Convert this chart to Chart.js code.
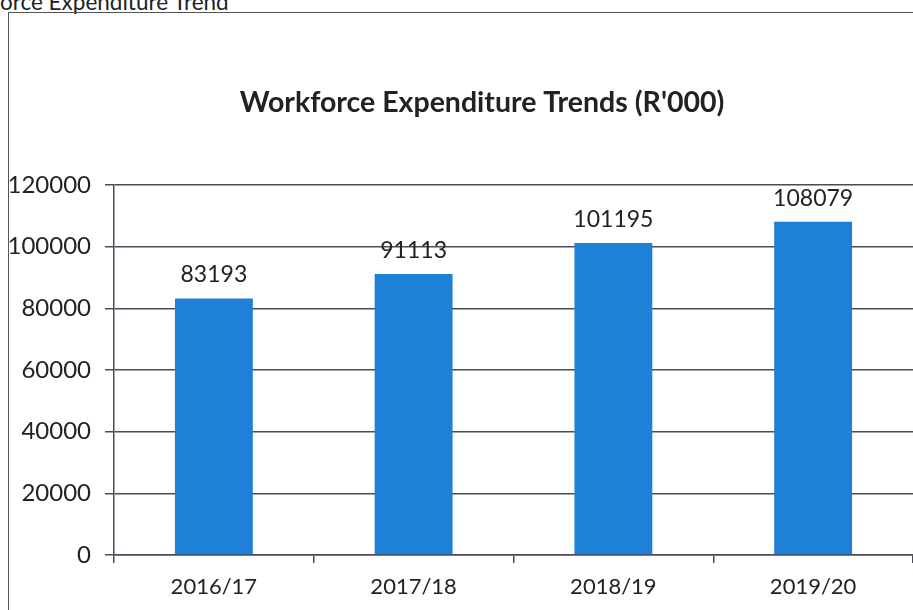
<!DOCTYPE html>
<html lang="en">
<head>
<meta charset="UTF-8">
<title>Workforce Expenditure Trends</title>
<script src="https://cdn.jsdelivr.net/npm/chart.js"></script>
<style>
  html, body { margin: 0; padding: 0; background: #fff; overflow: hidden; }
  body { width: 913px; height: 610px; position: relative; font-family: Lato, "Open Sans", sans-serif; }
  .caption { position: absolute; left: -62px; top: -12px; font-size: 22.5px; color: #222; white-space: nowrap; }
  .frame { position: absolute; left: 8px; top: 12px; width: 1000px; height: 700px; border: 1.5px solid #555; }
  #wrap { position: absolute; left: 0; top: 0; width: 913px; height: 610px; }
</style>
</head>
<body>
  <div class="caption">Workforce Expenditure Trend</div>
  <div class="frame"></div>
  <div id="wrap"><canvas id="chart"></canvas></div>
<script>
// chart data
const categories = ['2016/17', '2017/18', '2018/19', '2019/20'];
const expenditure = [83193, 91113, 101195, 108079];
const yTicks = [0, 20000, 40000, 60000, 80000, 100000, 120000];
const chartTitle = "Workforce Expenditure Trends (R'000)";

const gridColor = '#4b4b5c';
const textColor = '#222';
const fontFamily = 'Lato, "Open Sans", sans-serif';

// draws the value above each bar, plus the title (sits a bit right of centre in the original)
const valueLabels = {
  id: 'valueLabels',
  afterDatasetsDraw(chart) {
    const ctx = chart.ctx;
    const meta = chart.getDatasetMeta(0);
    ctx.save();
    ctx.font = '23px ' + fontFamily;
    ctx.fillStyle = textColor;
    ctx.textAlign = 'center';
    ctx.textBaseline = 'bottom';
    meta.data.forEach((bar, i) => {
      ctx.fillText(String(expenditure[i]), bar.x, bar.y - 12);
    });
    ctx.font = 'bold 28.5px ' + fontFamily;
    ctx.textBaseline = 'middle';
    ctx.fillText(chartTitle, 482, 103);
    ctx.restore();
  }
};

new Chart(document.getElementById('chart'), {
  type: 'bar',
  data: {
    labels: categories,
    datasets: [{
      data: expenditure,
      backgroundColor: '#1f80d8',
      borderWidth: 0,
      categoryPercentage: 1,
      barPercentage: 0.39
    }]
  },
  options: {
    responsive: true,
    maintainAspectRatio: false,
    animation: false,
    layout: { padding: { left: 0, right: 0, top: 185, bottom: 0 } },
    plugins: {
      legend: { display: false },
      tooltip: { enabled: false },
      title: { display: false }
    },
    scales: {
      x: {
        offset: true,
        grid: { display: true, drawOnChartArea: false, drawTicks: true, tickLength: 8, offset: true, color: gridColor, lineWidth: 1.5 },
        border: { color: gridColor, width: 1.5 },
        ticks: { color: textColor, font: { family: fontFamily, size: 22 }, padding: 11 },
        afterFit(scale) { scale.height = 55; }
      },
      y: {
        min: 0,
        max: 120000,
        afterBuildTicks(scale) { scale.ticks = yTicks.map(v => ({ value: v })); },
        grid: { color: gridColor, lineWidth: 1.5, tickLength: 9 },
        border: { color: gridColor, width: 1.5 },
        ticks: {
          color: textColor,
          font: { family: fontFamily, size: 24 },
          padding: 14,
          callback: v => String(v)
        },
        afterFit(scale) { scale.width = 114; }
      }
    }
  },
  plugins: [valueLabels]
});
</script>
</body>
</html>
